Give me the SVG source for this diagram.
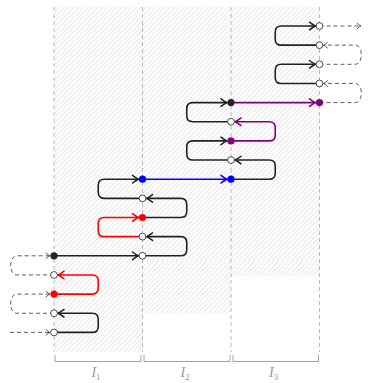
<svg xmlns="http://www.w3.org/2000/svg" width="371" height="383" viewBox="0 0 371 383">
<defs>
<pattern id="h1" width="4.8" height="4.8" patternUnits="userSpaceOnUse">
<path d="M-1,1 L1,-1 M0,4.8 L4.8,0 M3.8,5.8 L5.8,3.8" stroke="#d2d2d2" stroke-width="0.75"/>
</pattern>
<pattern id="h2" width="4.8" height="4.8" patternUnits="userSpaceOnUse" x="2.4">
<path d="M-1,1 L1,-1 M0,4.8 L4.8,0 M3.8,5.8 L5.8,3.8" stroke="#d2d2d2" stroke-width="0.75"/>
</pattern>
<marker id="ak" viewBox="-8 -5 9 10" refX="0" refY="0" markerWidth="9" markerHeight="10" markerUnits="userSpaceOnUse" orient="auto">
<path d="M-6,-3.8 Q-2.5,-1 0,0 Q-2.5,1 -6,3.8" fill="none" stroke="#222" stroke-width="1.5" stroke-linecap="round"/>
</marker>
<marker id="ar" viewBox="-8 -5 9 10" refX="0" refY="0" markerWidth="9" markerHeight="10" markerUnits="userSpaceOnUse" orient="auto">
<path d="M-6,-3.8 Q-2.5,-1 0,0 Q-2.5,1 -6,3.8" fill="none" stroke="#f00" stroke-width="1.5" stroke-linecap="round"/>
</marker>
<marker id="ab" viewBox="-8 -5 9 10" refX="0" refY="0" markerWidth="9" markerHeight="10" markerUnits="userSpaceOnUse" orient="auto">
<path d="M-6,-3.8 Q-2.5,-1 0,0 Q-2.5,1 -6,3.8" fill="none" stroke="#00f" stroke-width="1.5" stroke-linecap="round"/>
</marker>
<marker id="ap" viewBox="-8 -5 9 10" refX="0" refY="0" markerWidth="9" markerHeight="10" markerUnits="userSpaceOnUse" orient="auto">
<path d="M-6,-3.8 Q-2.5,-1 0,0 Q-2.5,1 -6,3.8" fill="none" stroke="#800080" stroke-width="1.5" stroke-linecap="round"/>
</marker>
<marker id="ad" viewBox="-6 -4 7 8" refX="0" refY="0" markerWidth="7" markerHeight="8" markerUnits="userSpaceOnUse" orient="auto">
<path d="M-4,-2.8 Q-1.7,-0.6 0,0 Q-1.7,0.6 -4,2.8" fill="none" stroke="#333" stroke-width="0.8" stroke-linecap="round"/>
</marker>
</defs>
<style>
.grid{stroke:#a8a8a8;stroke-width:0.8;stroke-dasharray:4,3;fill:none}
.br{stroke:#999;stroke-width:0.9;fill:none}
.lbl{font-family:"Liberation Serif",serif;font-style:italic;font-size:14px;fill:#999}
.sub{font-size:9px;font-style:normal}
.k{stroke:#222;stroke-width:1.6;fill:none;marker-end:url(#ak)}
.r{stroke:#f00;stroke-width:1.6;fill:none;marker-end:url(#ar)}
.b{stroke:#00f;stroke-width:1.6;fill:none;marker-end:url(#ab)}
.p{stroke:#800080;stroke-width:1.6;fill:none;marker-end:url(#ap)}
.d{stroke:#333;stroke-width:0.8;stroke-dasharray:4,3;fill:none;marker-end:url(#ad)}
.o{fill:#fff;stroke:#222;stroke-width:0.8}
</style>

<g id="background">
<rect x="54" y="7" width="265.5" height="254" fill="url(#h1)"/>
<rect x="54" y="261" width="88.5" height="91" fill="url(#h1)"/>
<rect x="142.5" y="261" width="88.5" height="52.5" fill="url(#h2)"/>
<rect x="231" y="261" width="88.5" height="14.5" fill="url(#h2)"/>
<line class="grid" x1="54" y1="7" x2="54" y2="352"/>
<line class="grid" x1="142.5" y1="7" x2="142.5" y2="352"/>
<line class="grid" x1="231" y1="7" x2="231" y2="352"/>
<line class="grid" x1="319.5" y1="7" x2="319.5" y2="352"/>
<path class="br" d="M55,355 V361.5 H141 V355"/>
<path class="br" d="M144,355 V361.5 H230 V355"/>
<path class="br" d="M233,355 V361.5 H318.5 V355"/>
<text class="lbl" x="96" y="377" text-anchor="middle">I<tspan class="sub" dy="2.5">1</tspan></text>
<text class="lbl" x="185" y="377" text-anchor="middle">I<tspan class="sub" dy="2.5">2</tspan></text>
<text class="lbl" x="273.5" y="377" text-anchor="middle">I<tspan class="sub" dy="2.5">3</tspan></text>
</g>

<g id="connectors">
<path class="d" d="M10,332.4 H50"/>
<path class="k" d="M54,332.4 H92.25 Q98.25,332.4 98.25,326.4 V319.25 Q98.25,313.25 92.25,313.25 H58"/>
<path class="d" d="M54,313.25 H17 C8.5,313.25 8.5,294.1 17,294.1 H50"/>
<path class="r" d="M54,294.1 H92.25 Q98.25,294.1 98.25,288.1 V280.95 Q98.25,274.95 92.25,274.95 H58"/>
<path class="d" d="M54,274.95 H17 C8.5,274.95 8.5,255.8 17,255.8 H50"/>
<path class="k" d="M54,255.8 H138.5"/>
<path class="k" d="M142.5,255.8 H180.75 Q186.75,255.8 186.75,249.8 V242.65 Q186.75,236.65 180.75,236.65 H146.5"/>
<path class="r" d="M142.5,236.65 H104.25 Q98.25,236.65 98.25,230.65 V223.5 Q98.25,217.5 104.25,217.5 H138.5"/>
<path class="k" d="M142.5,217.5 H180.75 Q186.75,217.5 186.75,211.5 V204.35 Q186.75,198.35 180.75,198.35 H146.5"/>
<path class="k" d="M142.5,198.35 H104.25 Q98.25,198.35 98.25,192.35 V185.2 Q98.25,179.2 104.25,179.2 H138.5"/>
<path class="b" d="M142.5,179.2 H227"/>
<path class="k" d="M231,179.2 H269.25 Q275.25,179.2 275.25,173.2 V166.05 Q275.25,160.05 269.25,160.05 H235"/>
<path class="k" d="M231,160.05 H192.75 Q186.75,160.05 186.75,154.05 V146.9 Q186.75,140.9 192.75,140.9 H227"/>
<path class="p" d="M231,140.9 H269.25 Q275.25,140.9 275.25,134.9 V127.75 Q275.25,121.75 269.25,121.75 H235"/>
<path class="k" d="M231,121.75 H192.75 Q186.75,121.75 186.75,115.75 V108.6 Q186.75,102.6 192.75,102.6 H227"/>
<path class="p" d="M231,102.6 H315.5"/>
<path class="d" d="M319.5,102.6 H355 C363.5,102.6 363.5,83.45 355,83.45 H323.5"/>
<path class="k" d="M319.5,83.45 H281.25 Q275.25,83.45 275.25,77.45 V70.3 Q275.25,64.3 281.25,64.3 H315.5"/>
<path class="d" d="M319.5,64.3 H355 C363.5,64.3 363.5,45.15 355,45.15 H323.5"/>
<path class="k" d="M319.5,45.15 H281.25 Q275.25,45.15 275.25,39.15 V32 Q275.25,26 281.25,26 H315.5"/>
<path class="d" d="M319.5,26 H361"/>
</g>

<g id="nodes">
<g id="n1a"><circle cx="54" cy="255.8" r="3.6" fill="#222"/></g>
<g id="n1b"><circle class="o" cx="54" cy="274.95" r="3.4"/></g>
<g id="n1c"><circle cx="54" cy="294.1" r="3.6" fill="#f00"/></g>
<g id="n1d"><circle class="o" cx="54" cy="313.25" r="3.4"/></g>
<g id="n1e"><circle class="o" cx="54" cy="332.4" r="3.4"/></g>
<g id="n2a"><circle cx="142.5" cy="179.2" r="3.6" fill="#00f"/></g>
<g id="n2b"><circle class="o" cx="142.5" cy="198.35" r="3.4"/></g>
<g id="n2c"><circle cx="142.5" cy="217.5" r="3.6" fill="#f00"/></g>
<g id="n2d"><circle class="o" cx="142.5" cy="236.65" r="3.4"/></g>
<g id="n2e"><circle class="o" cx="142.5" cy="255.8" r="3.4"/></g>
<g id="n3a"><circle cx="231" cy="102.6" r="3.6" fill="#222"/></g>
<g id="n3b"><circle class="o" cx="231" cy="121.75" r="3.4"/></g>
<g id="n3c"><circle cx="231" cy="140.9" r="3.6" fill="#800080"/></g>
<g id="n3d"><circle class="o" cx="231" cy="160.05" r="3.4"/></g>
<g id="n3e"><circle cx="231" cy="179.2" r="3.6" fill="#00f"/></g>
<g id="n4a"><circle class="o" cx="319.5" cy="26" r="3.4"/></g>
<g id="n4b"><circle class="o" cx="319.5" cy="45.15" r="3.4"/></g>
<g id="n4c"><circle class="o" cx="319.5" cy="64.3" r="3.4"/></g>
<g id="n4d"><circle class="o" cx="319.5" cy="83.45" r="3.4"/></g>
<g id="n4e"><circle cx="319.5" cy="102.6" r="3.6" fill="#800080"/></g>
</g>
</svg>
